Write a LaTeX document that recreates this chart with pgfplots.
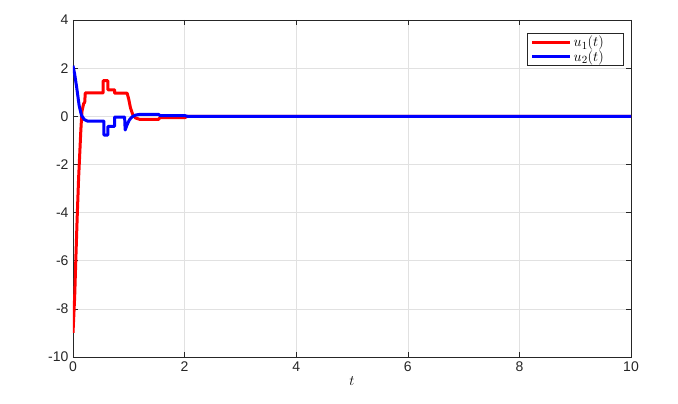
\documentclass[border=0pt]{standalone}
\usepackage{pgfplots}
\pgfplotsset{compat=1.18}
\usepackage{fontspec}
\setmainfont{Liberation Sans}
\definecolor{axgray}{RGB}{38,38,38}
\definecolor{gridgray}{RGB}{225,225,225}
\begin{document}
\begin{tikzpicture}
\begin{axis}[
  scale only axis,
  width=558pt, height=337pt,
  xmin=0, xmax=10, ymin=-10, ymax=4,
  xtick={0,2,...,10}, ytick={-10,-8,...,4},
  grid=major,
  major grid style={gridgray, line width=0.6pt},
  axis line style={axgray, line width=0.8pt},
  tick style={axgray, line width=0.6pt},
  tick align=inside,
  major tick length=5pt,
  xtick pos=both, ytick pos=both,
  /pgf/number format/assume math mode=true,
  ticklabel style={font=\fontsize{14}{16}\selectfont, text=axgray},
  xticklabel style={yshift=-1pt},
  yticklabel style={xshift=-1pt},
  xlabel={$t$},
  xlabel style={font=\fontsize{14}{16}\selectfont, yshift=2pt},
  legend style={at={(0.9875,0.9605)}, anchor=north east, draw=axgray, line width=0.6pt,
    font=\fontsize{15}{15}\selectfont, inner xsep=3pt, inner ysep=1.5pt, row sep=0pt,
    nodes={inner ysep=1pt}},
  legend cell align=left,
  legend image code/.code={\draw[#1] (0pt,0pt) -- (38pt,0pt);},
]
\addplot[red, line width=3pt, line join=round] coordinates {
(0,-9) (0.03,-7.5) (0.05,-6) (0.075,-4.2) (0.1,-2.6) (0.12,-1.6) (0.14,-0.6)
(0.16,0.2) (0.19,0.52) (0.21,0.58) (0.22,0.97) (0.54,0.97) (0.54,1.48)
(0.625,1.48) (0.625,1.1) (0.745,1.1) (0.745,0.96) (0.97,0.96) (1.0,0.7)
(1.03,0.35) (1.07,0.08) (1.12,-0.07) (1.2,-0.13) (1.53,-0.13) (1.56,-0.06)
(2.0,-0.06) (2.05,0) (10,0)
};
\addlegendentry{\makebox[45pt][l]{$u_1(t)$}}
\addplot[blue, line width=3pt, line join=round] coordinates {
(0,2.1) (0.03,1.75) (0.066,1.2) (0.11,0.45) (0.15,0.05) (0.2,-0.13)
(0.26,-0.2) (0.555,-0.2) (0.555,-0.78) (0.625,-0.78) (0.625,-0.42)
(0.745,-0.42) (0.745,-0.03) (0.925,-0.03) (0.935,-0.57) (0.97,-0.35)
(1.01,-0.15) (1.06,-0.02) (1.12,0.05) (1.2,0.08) (1.53,0.08) (1.56,0.03)
(2.0,0.03) (2.05,0) (10,0)
};
\addlegendentry{\makebox[45pt][l]{$u_2(t)$}}
\end{axis}
\pgfresetboundingbox
\path ([shift={(-73pt,-47pt)}]current axis.south west) rectangle ([shift={(47pt,20pt)}]current axis.north east);
\end{tikzpicture}
\end{document}
